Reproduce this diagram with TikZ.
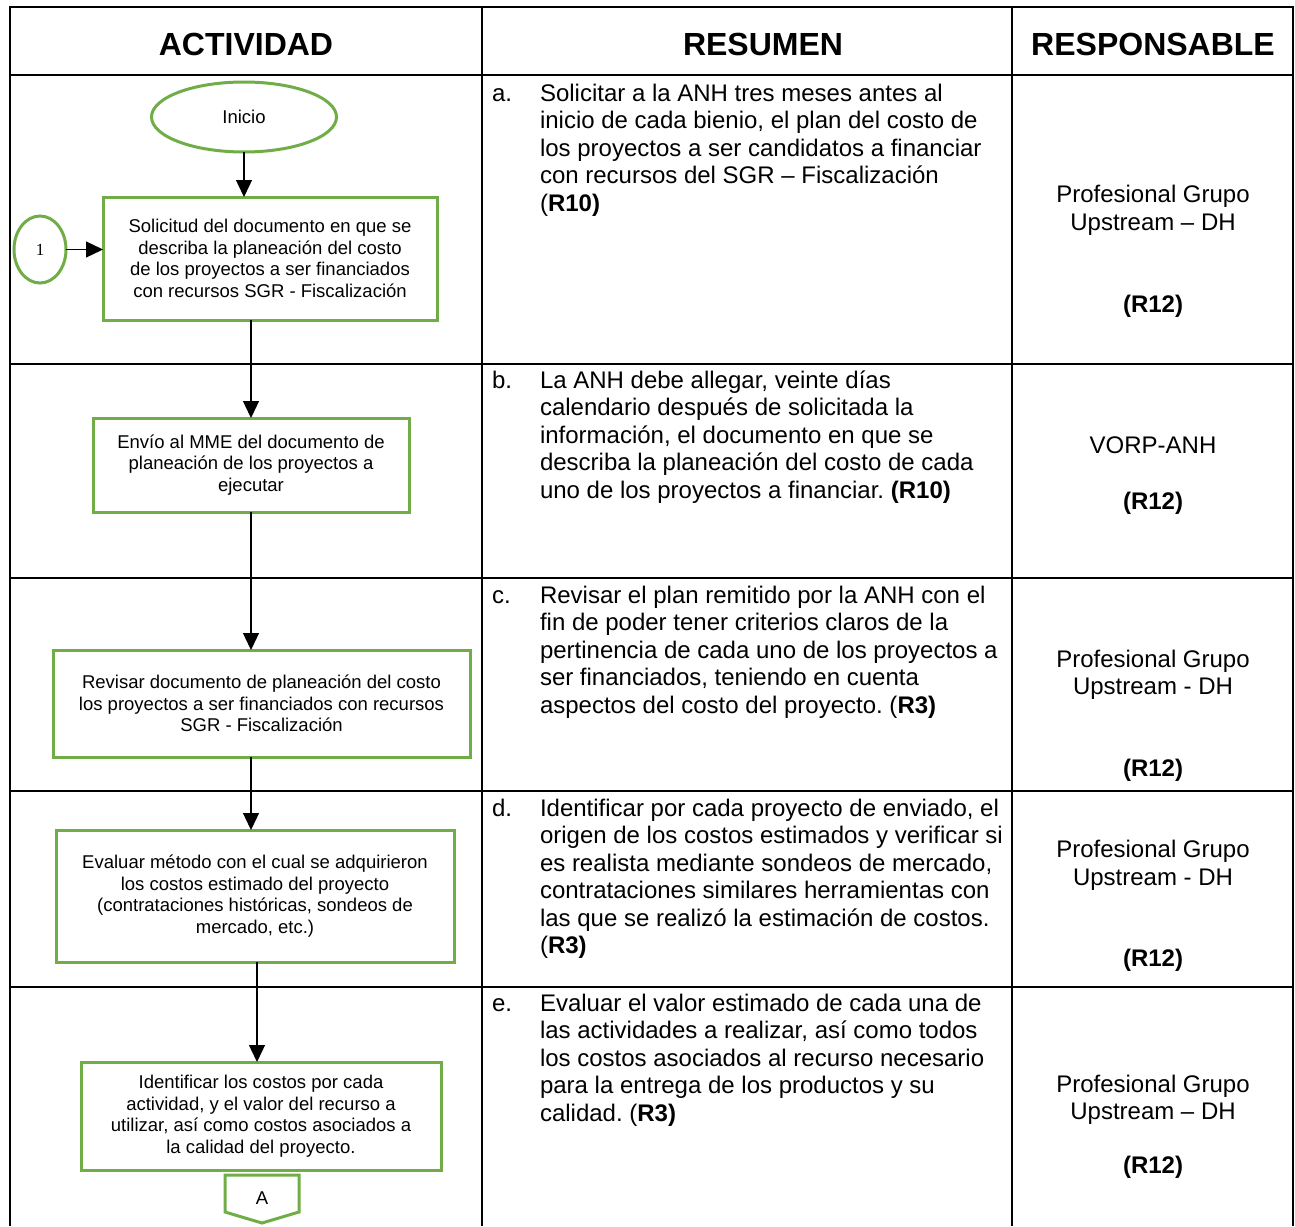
\documentclass[tikz,border=0pt]{standalone}
\usepackage{fontspec}
\setmainfont{Liberation Sans}
\newfontfamily\numfont{Liberation Serif}
\usetikzlibrary{arrows.meta,shapes.geometric}
\definecolor{flowgreen}{RGB}{112,173,71}
\newcommand{\headfont}{\fontsize{32}{36}\selectfont\bfseries}
\newcommand{\cellfont}{\fontsize{24}{27.5}\selectfont}
\newcommand{\flowfont}{\fontsize{18.5}{21.5}\selectfont}
\newcommand{\celltext}[1]{\parbox[t]{500pt}{\raggedright #1}}
\frenchspacing
\begin{document}
\begin{tikzpicture}[x=1pt,y=-1pt,inner sep=0pt,outer sep=0pt,
grid/.style={line width=2.8pt},
flowbox/.style={draw=flowgreen,rectangle,line width=3pt,align=center,font=\flowfont},
flowend/.style={draw=flowgreen,ellipse,line width=3pt,font=\flowfont},
flowline/.style={line width=1.3pt,-{Triangle[width=16pt,length=17pt]}},
head/.style={anchor=base,font=\headfont},
cell/.style={anchor=base west,font=\cellfont},
resp/.style={anchor=base,font=\cellfont}]
\useasboundingbox (0,0) rectangle (1295,1226);
% table frame
\draw[grid] (10,1226) -- (10,7) -- (1293,7) -- (1293,1226);
\draw[grid] (482,7) -- (482,1226);
\draw[grid] (1012,7) -- (1012,1226);
\foreach \y in {75,364,578,791,987}
  \draw[grid] (10,\y) -- (1293,\y);
% headings
\draw (246,55) node[head] (hact) {ACTIVIDAD};
\draw (763,55) node[head] (hres) {RESUMEN};
\draw (1153,55) node[head] (hresp) {RESPONSABLE};
% flow chart
\draw (244,117) node[flowend,minimum width=185pt,minimum height=70pt] (inicio) {Inicio};
\draw (40,249.5) node[flowend,minimum width=52pt,minimum height=67pt,font=\fontsize{17}{20}\selectfont\numfont] (con1) {1};
\draw (270,258.5) node[flowbox,minimum width=334pt,minimum height=123pt] (solic) {Solicitud del documento en que se\\ describa la planeación del costo\\ de los proyectos a ser financiados\\ con recursos SGR - Fiscalización};
\draw (251,465) node[flowbox,minimum width=316pt,minimum height=94pt] (envio) {Envío al MME del documento de\\ planeación de los proyectos a\\ ejecutar};
\draw (261.5,703.5) node[flowbox,minimum width=417pt,minimum height=107pt] (revis) {Revisar documento de planeación del costo\\ los proyectos a ser financiados con recursos\\ SGR - Fiscalización};
\draw (255,896) node[flowbox,minimum width=398pt,minimum height=132pt] (evalm) {Evaluar método con el cual se adquirieron\\ los costos estimado del proyecto\\ (contrataciones históricas, sondeos de\\ mercado, etc.)};
\draw (261,1116) node[flowbox,minimum width=360pt,minimum height=108pt] (ident) {Identificar los costos por cada\\ actividad, y el valor del recurso a\\ utilizar, así como costos asociados a\\ la calidad del proyecto.};
% off-page connector
\draw[draw=flowgreen,line width=3pt,line join=miter] (225,1175) -- (299,1175) -- (299,1212) -- (262,1223) -- (225,1212) -- cycle;
\draw (262,1198) node[font=\flowfont] (conA) {A};
\draw[flowline] (inicio) -- (inicio |- solic.north);
\draw[flowline] (con1) -- (solic.west |- con1);
\draw[flowline] (envio.north |- solic.south) -- (envio.north);
\draw[flowline] (envio.south) -- (envio.south |- revis.north);
\draw[flowline] (envio.south |- revis.south) -- (envio.south |- evalm.north);
\draw[flowline] ([xshift=2pt]evalm.south) -- ([xshift=2pt]evalm.south |- ident.north);
% summary column
\draw (492,101) node[cell] (la) {a.};
\draw (540,101) node[cell] (ra) {\celltext{Solicitar a la ANH tres meses antes al\\ inicio de cada bienio, el plan del costo de\\ los proyectos a ser candidatos a financiar\\ con recursos del SGR – Fiscalización\\ (\textbf{R10)}}};
\draw (492,388) node[cell] (lb) {b.};
\draw (540,388) node[cell] (rb) {\celltext{La ANH debe allegar, veinte días\\ calendario después de solicitada la\\ información, el documento en que se\\ describa la planeación del costo de cada\\ uno de los proyectos a financiar. \textbf{(R10)}}};
\draw (492,603) node[cell] (lc) {c.};
\draw (540,603) node[cell] (rc) {\celltext{Revisar el plan remitido por la ANH con el\\ fin de poder tener criterios claros de la\\ pertinencia de cada uno de los proyectos a\\ ser financiados, teniendo en cuenta\\ aspectos del costo del proyecto. (\textbf{R3)}}};
\draw (492,816) node[cell] (ld) {d.};
\draw (540,816) node[cell] (rd) {\celltext{Identificar por cada proyecto de enviado, el\\ origen de los costos estimados y verificar si\\ es realista mediante sondeos de mercado,\\ contrataciones similares herramientas con\\ las que se realizó la estimación de costos.\\ (\textbf{R3)}}};
\draw (492,1011) node[cell] (le) {e.};
\draw (540,1011) node[cell] (re) {\celltext{Evaluar el valor estimado de cada una de\\ las actividades a realizar, así como todos\\ los costos asociados al recurso necesario\\ para la entrega de los productos y su\\ calidad. (\textbf{R3)}}};
% responsible column
\draw (1153,202.5) node[resp] (pa1) {Profesional Grupo};
\draw (1153,230.5) node[resp] (pa2) {Upstream – DH};
\draw (1153,312.5) node[resp] (pa3) {\textbf{(R12)}};
\draw (1153,453.5) node[resp] (pb1) {VORP-ANH};
\draw (1153,509.5) node[resp] (pb2) {\textbf{(R12)}};
\draw (1153,667.5) node[resp] (pc1) {Profesional Grupo};
\draw (1153,694.5) node[resp] (pc2) {Upstream - DH};
\draw (1153,776.5) node[resp] (pc3) {\textbf{(R12)}};
\draw (1153,857.5) node[resp] (pd1) {Profesional Grupo};
\draw (1153,885.5) node[resp] (pd2) {Upstream - DH};
\draw (1153,966.5) node[resp] (pd3) {\textbf{(R12)}};
\draw (1153,1092.5) node[resp] (pe1) {Profesional Grupo};
\draw (1153,1119.5) node[resp] (pe2) {Upstream – DH};
\draw (1153,1173.5) node[resp] (pe3) {\textbf{(R12)}};
\end{tikzpicture}
\end{document}
